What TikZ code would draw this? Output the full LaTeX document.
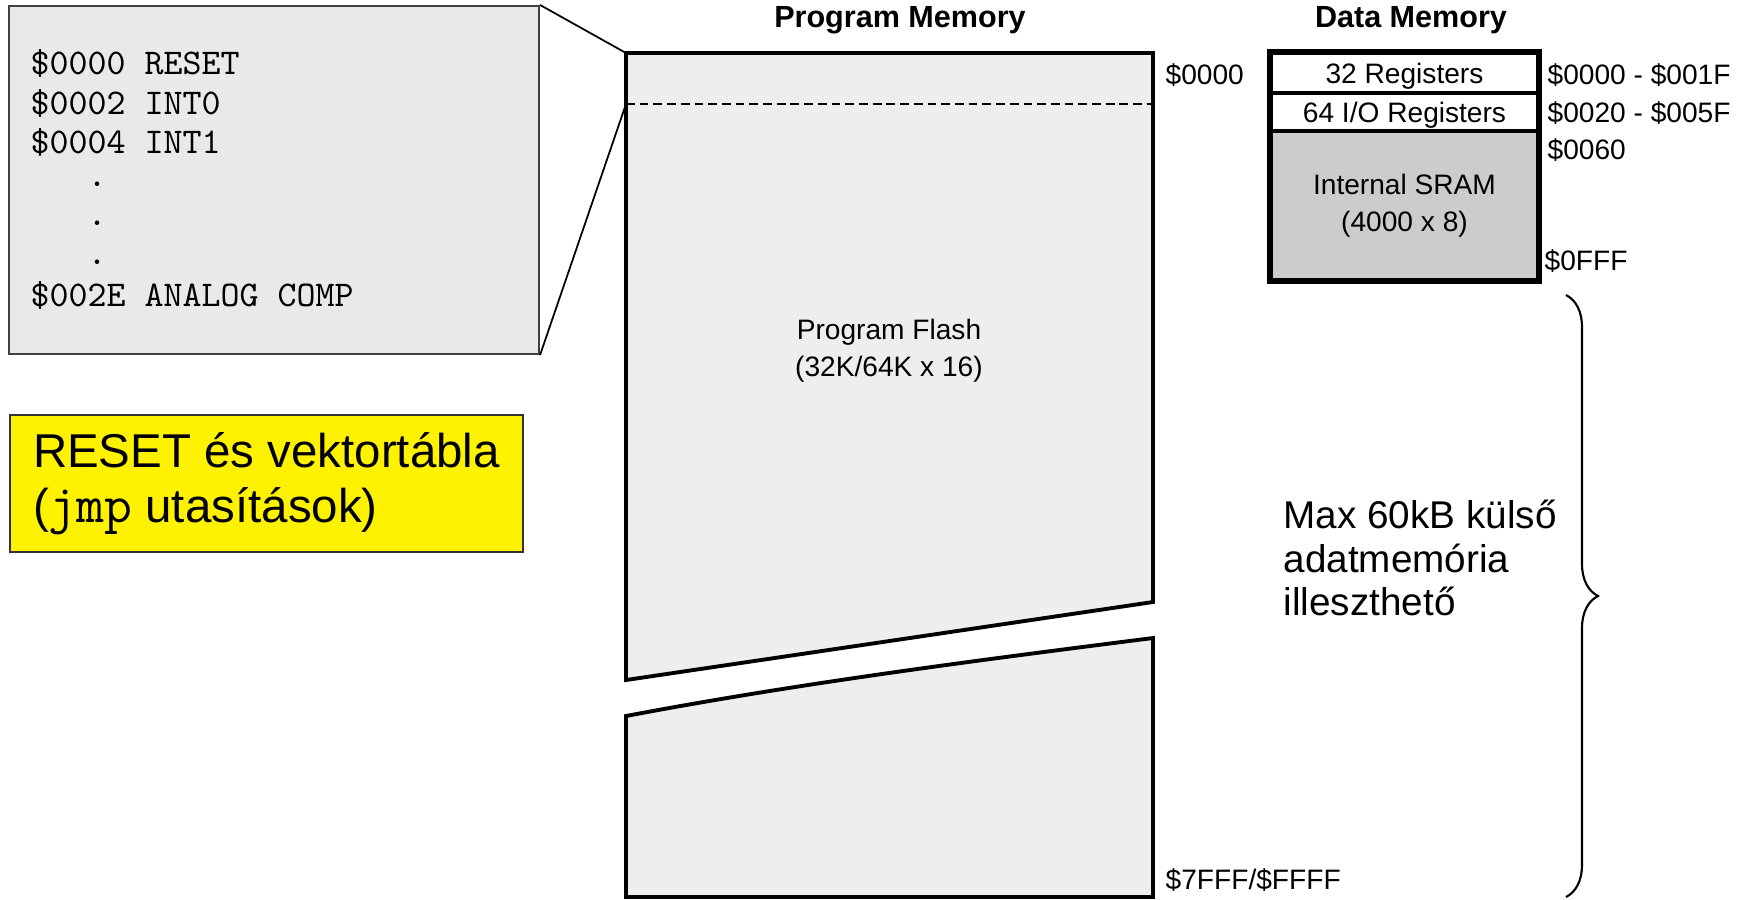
\documentclass[tikz,border=0pt]{standalone}
\usepackage{fontspec}
\setmainfont{Liberation Sans}
\setsansfont{Liberation Sans}
\usetikzlibrary{decorations.pathreplacing}

\definecolor{vecgray}{HTML}{E9E9E9}
\definecolor{flashgray}{HTML}{EEEEEE}
\definecolor{sramgray}{HTML}{CCCCCC}

\begin{document}
\begin{tikzpicture}[x=0.1mm, y=-0.1mm,
  title/.style={font=\fontsize{8.7}{10}\selectfont\bfseries, inner sep=0pt},
  lbl/.style={font=\fontsize{8}{10.6}\selectfont, inner sep=0pt},
  addr/.style={lbl, anchor=west},
  code/.style={font=\ttfamily\fontsize{10.3}{11}\selectfont, inner sep=0pt, anchor=base west},
  prog/.style={draw, fill=flashgray, line width=1.1pt, line join=miter},
  regrow/.style={lbl, draw, line width=0.9pt, fill=white, minimum width=26.7mm, align=center}]
  \useasboundingbox (0,0) rectangle (1747,899);

  % Vector table (zoomed)
  \node[draw=black!75, fill=vecgray, line width=0.6pt, minimum width=53mm, minimum height=34.8mm] (vec) at (274,180) {};
  \foreach \y/\txt [count=\i] in {74/{\$0000 RESET}, 114/{\$0002 INT0}, 153/{\$0004 INT1},
      186/{\phantom{\$00}.}, 225/{\phantom{\$00}.}, 264/{\phantom{\$00}.}, 306/{\$002E ANALOG COMP}}
    \node[code] (line\i) at (30,\y) {\txt};

  % Note
  \node[draw=black!80, fill=yellow, line width=0.5pt, anchor=north west, inner sep=0pt,
        minimum width=51.3mm, minimum height=13.7mm, align=left,
        font=\fontsize{13.5}{15.6}\selectfont] (note) at (9,414)
    {RESET és vektortábla\\(\texttt{\fontsize{15.4}{15.6}\selectfont jmp} utasítások)};

  % Program memory
  \node[title] (pmtitle) at (900,20) {Program Memory};
  \coordinate (pmtl) at (626,53);
  \coordinate (pmtr) at (1153,53);
  \coordinate (pmcr) at (1153,602);
  \coordinate (pmcl) at (626,680);
  \coordinate (pmlo) at (626,716);
  \coordinate (pmro) at (1153,638);
  \coordinate (pmbr) at (1153,897);
  \coordinate (pmbl) at (626,897);
  \draw[prog] (pmtl) -- (pmtr) -- (pmcr) -- (pmcl) -- cycle;
  \draw[prog] (pmlo) .. controls (800,683) and (980,660) .. (pmro) -- (pmbr) -- (pmbl) -- cycle;
  \coordinate (dl) at (626,104);
  \coordinate (dr) at (1153,104);
  \draw[line width=0.7pt, dash pattern=on 2.5pt off 1.4pt] (dl) -- (dr);
  \node[lbl, align=center] (flash) at (889,351) {Program Flash\\(32K/64K x 16)};
  \node[addr] (pm0) at (1165,75) {\$0000};
  \node[addr] (pmend) at (1165,880) {\$7FFF/\$FFFF};

  % Zoom lines
  \draw[line width=0.5pt] (vec.north east) -- (pmtl);
  \draw[line width=0.5pt] (vec.south east) -- (dl);

  % Data memory
  \node[title] (dmtitle) at (1411,20) {Data Memory};
  \node[regrow, minimum height=4mm, text depth=0pt] (regs) at (1404.5,73) {32 Registers};
  \node[regrow, minimum height=3.8mm, text depth=0pt] (ioregs) at (1404.5,112) {64 I/O Registers};
  \node[regrow, minimum height=14.9mm, fill=sramgray] (sram) at (1404.5,205.5) {Internal SRAM\\(4000 x 8)};
  \draw[line width=1.6pt] (regs.north west) rectangle (sram.south east);
  \node[addr] (dm0) at (1547,75) {\$0000 - \$001F};
  \node[addr] (dm1) at (1547,113) {\$0020 - \$005F};
  \node[addr] (dm2) at (1547,150) {\$0060};
  \node[addr] (dm3) at (1544,261) {\$0FFF};

  % External memory
  \coordinate (btop) at (1566,295);
  \coordinate (bbot) at (1566,897);
  \draw[decorate, decoration={brace, amplitude=3.2mm}, line width=0.6pt] (btop) -- (bbot);
  \node[anchor=west, align=left, inner sep=0pt, font=\fontsize{11}{12.4}\selectfont] (ext) at (1283,558)
    {Max 60kB külső\\adatmemória\\illeszthető};
\end{tikzpicture}
\end{document}
